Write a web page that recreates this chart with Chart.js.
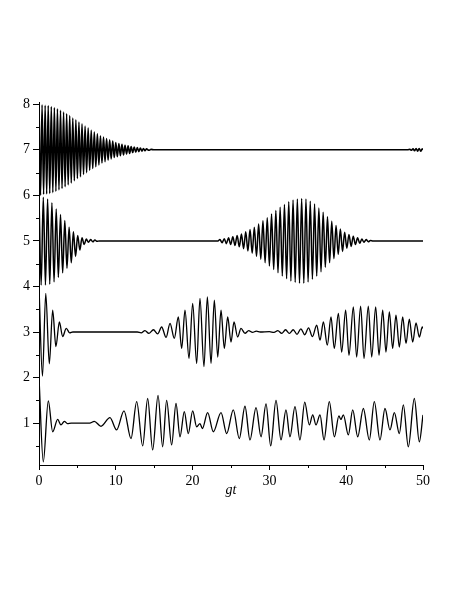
<!DOCTYPE html>
<html>
<head>
<meta charset="utf-8">
<script src="https://cdn.jsdelivr.net/npm/chart.js@4.4.0/dist/chart.umd.min.js"></script>
<style>
  html, body { margin: 0; padding: 0; background: #fff; }
  canvas { display: block; }
</style>
</head>
<body>
<canvas id="myChart" width="463" height="599"></canvas>
<script>
// tick positions
const xTicks = [0, 5, 10, 15, 20, 25, 30, 35, 40, 45, 50]
const yTicks = [0.5, 1, 1.5, 2, 2.5, 3, 3.5, 4, 4.5, 5, 5.5, 6, 6.5, 7, 7.5, 8]

// curve around 7 (peaks and troughs)
const tTop = [0,0.2,0.4,0.6,0.8,1,1.2,1.4,1.6,1.8,2,2.2,2.4,2.6,2.8,3,3.2,3.4,3.6,3.8,
  4,4.2,4.4,4.6,4.8,5,5.2,5.4,5.6,5.8,6,6.2,6.4,6.6,6.8,7,7.2,7.4,7.6,7.8,
  8,8.2,8.4,8.6,8.8,9,9.2,9.4,9.6,9.8,10,10.2,10.4,10.6,10.8,11,11.2,11.4,11.6,11.8,
  12,12.2,12.4,12.6,12.8,13,13.2,13.4,13.6,13.8,14,14.3,14.6,15,
  48,48.3,48.5,48.7,48.9,49.1,49.3,49.5,49.7,49.9,50]
const yTop = [8.00,6.00,7.99,6.02,7.98,6.03,7.97,6.04,7.95,6.06,
  7.93,6.09,7.90,6.12,7.87,6.15,7.83,6.19,7.79,6.23,
  7.75,6.27,7.70,6.32,7.66,6.37,7.61,6.41,7.57,6.46,
  7.52,6.50,7.48,6.55,7.43,6.59,7.39,6.63,7.35,6.67,
  7.31,6.71,7.28,6.74,7.25,6.77,7.22,6.80,7.19,6.83,
  7.16,6.85,7.14,6.87,7.12,6.89,7.10,6.91,7.09,6.92,
  7.07,6.94,7.06,6.95,7.05,6.96,7.04,6.97,7.03,6.98,
  7.02,6.99,7.01,7.00,
  7.00,7.01,6.99,7.02,6.98,7.03,6.97,7.03,6.97,7.02,7.00]

// curve around 5
const tSecond = [0,0.28,0.56,0.84,1.12,1.4,1.68,1.96,2.24,2.52,2.8,3.08,3.36,3.64,3.92,
  4.2,4.48,4.76,5.04,5.32,5.6,5.88,6.16,6.44,6.72,7,7.28,7.56,7.84,
  23.3,
  23.56,23.84,24.12,24.4,24.68,24.96,25.24,25.52,25.8,26.08,
  26.36,26.64,26.92,27.2,27.48,27.76,28.04,28.32,28.6,28.88,
  29.16,29.44,29.72,30,30.28,30.56,30.84,31.12,31.4,31.68,
  31.96,32.24,32.52,32.8,33.08,33.36,33.64,33.92,34.2,34.48,
  34.76,35.04,35.32,35.6,35.88,36.16,36.44,36.72,37,37.28,
  37.56,37.84,38.12,38.4,38.68,38.96,39.24,39.52,39.8,40.08,
  40.36,40.64,40.92,41.2,41.48,41.76,42.04,42.32,42.6,42.88,
  43.16,43.5,50]
const ySecond = [5.97,4.03,5.96,4.03,5.92,4.05,5.84,4.10,5.70,4.20,5.58,4.30,5.45,4.40,5.30,
  4.52,5.20,4.66,5.12,4.80,5.07,4.92,5.04,4.97,5.03,4.98,5.02,4.99,5.00,
  5.00,
  5.03,4.96,5.05,4.94,5.07,4.92,5.09,4.90,5.12,4.87,
  5.15,4.83,5.20,4.78,5.25,4.73,5.30,4.66,5.37,4.60,
  5.44,4.52,5.51,4.45,5.59,4.37,5.67,4.30,5.74,4.23,
  5.80,4.17,5.86,4.12,5.90,4.09,5.92,4.07,5.93,4.07,
  5.92,4.10,5.87,4.16,5.81,4.23,5.72,4.32,5.63,4.42,
  5.53,4.52,5.43,4.61,5.34,4.70,5.26,4.77,5.19,4.84,
  5.14,4.88,5.10,4.92,5.07,4.95,5.04,4.97,5.03,4.98,
  5.01,5.00,5.00]

// curve around 3
const tThird = [0,0.45,0.88,1.34,1.78,2.2,2.65,3.08,3.55,4.0,4.4,
  12.8,13.3,13.8,14.3,14.9,15.45,15.97,16.55,17.06,17.62,
  18.14,18.58,19.01,19.53,20.01,20.53,20.96,21.48,21.92,22.4,
  22.83,23.27,23.7,24.13,24.57,25,25.39,25.87,26.3,26.82,
  27.3,27.8,28.3,28.8,30,30.6,31.1,31.6,32.1,32.6,
  33.1,33.6,34.1,34.6,35.1,35.6,36.16,36.59,37.03,37.54,
  38.02,38.45,38.98,39.41,39.93,40.36,40.93,41.36,41.88,42.32,
  42.88,43.32,43.84,44.27,44.75,45.18,45.62,46.05,46.48,46.92,
  47.35,47.79,48.22,48.66,49.09,49.52,49.91,50]
const yThird = [4.00,2.03,3.85,2.30,3.48,2.68,3.22,2.90,3.08,2.98,3.00,
  3.00,2.98,3.03,2.97,3.05,2.96,3.11,2.88,3.19,2.86,
  3.33,2.64,3.48,2.42,3.63,2.31,3.74,2.24,3.77,2.31,
  3.70,2.45,3.48,2.64,3.33,2.78,3.22,2.89,3.08,2.97,
  3.03,2.99,3.02,3.00,3.01,2.99,3.03,2.97,3.05,2.97,
  3.05,2.95,3.07,2.94,3.09,2.90,3.15,2.82,3.22,2.71,
  3.33,2.64,3.41,2.56,3.48,2.49,3.55,2.45,3.57,2.42,
  3.57,2.45,3.55,2.49,3.48,2.56,3.44,2.64,3.37,2.67,
  3.33,2.75,3.28,2.78,3.20,2.89,3.11,3.08]

// curve around 1
const tBottom = [0,0.56,1.21,1.78,2.43,2.86,3.3,3.7,4.2,6.6,
  7.2,8.07,9.24,10.1,11.07,11.98,12.72,13.5,14.15,14.8,
  15.5,16.1,16.62,17.27,17.84,18.36,18.92,19.44,20.01,20.53,
  20.96,21.27,21.96,22.7,23.7,24.44,25.3,26.08,26.82,27.47,
  28.26,28.91,29.56,30.17,30.86,31.51,32.16,32.68,33.33,33.98,
  34.6,35.2,35.64,36.07,36.59,37.11,37.8,38.46,39.05,39.3,
  39.63,40.28,40.85,41.5,42.23,43.01,43.66,44.4,45.05,45.7,
  46.27,46.92,47.44,48.09,48.87,49.52,50]
const yBottom = [2.00,0.15,1.49,0.81,1.08,0.96,1.04,0.99,1.00,1.00,
  1.04,0.93,1.12,0.85,1.27,0.66,1.47,0.50,1.54,0.41,
  1.61,0.48,1.50,0.52,1.43,0.70,1.25,0.77,1.27,0.92,
  0.99,0.88,1.23,0.81,1.23,0.77,1.29,0.66,1.37,0.63,
  1.34,0.70,1.42,0.50,1.50,0.63,1.29,0.70,1.36,0.63,
  1.46,0.96,1.18,0.96,1.18,0.63,1.47,0.70,1.16,1.08,
  1.18,0.74,1.29,0.70,1.32,0.63,1.47,0.63,1.32,0.85,
  1.23,0.77,1.40,0.48,1.54,0.59,1.18]

const toPoints = (ts, ys) => ts.map((t, i) => ({ x: t, y: ys[i] }))

const serif = 'Liberation Serif, Times New Roman, serif'

const curve = (ts, ys, w) => ({
    data: toPoints(ts, ys),
    borderColor: '#000',
    borderWidth: w,
    pointRadius: 0,
    cubicInterpolationMode: 'monotone',
    fill: false
})

// short ticks for the half steps
const minorTicks = {
    id: 'minorTicks',
    afterDraw(chart) {
        const { ctx, scales: { x, y } } = chart
        ctx.save()
        ctx.strokeStyle = '#000'
        ctx.lineWidth = 1
        ctx.beginPath()
        x.ticks.forEach(t => {
            if (t.value % 10 !== 0) {
                const px = Math.round(x.getPixelForValue(t.value)) + 0.5
                ctx.moveTo(px, x.top)
                ctx.lineTo(px, x.top + 3)
            }
        })
        y.ticks.forEach(t => {
            if (t.value % 1 !== 0) {
                const py = Math.round(y.getPixelForValue(t.value)) + 0.5
                ctx.moveTo(y.right, py)
                ctx.lineTo(y.right - 3, py)
            }
        })
        ctx.stroke()
        ctx.restore()
    }
}

var ctx = document.getElementById('myChart')
var myChart = new Chart(ctx, {
    type: 'line',
    data: {
        datasets: [
            curve(tTop, yTop, 1.6),
            curve(tSecond, ySecond, 1.5),
            curve(tThird, yThird, 1.3),
            curve(tBottom, yBottom, 1.3)
        ]
    },
    options: {
        responsive: false,
        animation: false,
        devicePixelRatio: 1,
        layout: { padding: { left: 0, right: 40, top: 102, bottom: 94 } },
        plugins: {
            legend: { display: false },
            tooltip: { enabled: false }
        },
        scales: {
            x: {
                type: 'linear',
                min: 0,
                max: 50,
                afterBuildTicks: axis => { axis.ticks = xTicks.map(v => ({ value: v })) },
                afterFit: axis => { axis.height = 40 },
                border: { display: true, color: '#000', width: 1 },
                grid: {
                    drawOnChartArea: false,
                    tickLength: 5,
                    tickColor: c => (c.tick && c.tick.value % 10 === 0) ? '#000' : 'rgba(0,0,0,0)'
                },
                ticks: {
                    color: '#000',
                    padding: 3,
                    maxRotation: 0,
                    autoSkip: false,
                    font: { family: serif, size: 14 },
                    callback: v => (v % 10 === 0 ? v : '')
                },
                title: {
                    display: true,
                    text: 'gt',
                    color: '#000',
                    font: { family: serif, size: 14, style: 'italic' },
                    padding: { top: 0, bottom: 6 }
                }
            },
            y: {
                type: 'linear',
                min: 0.08,
                max: 8.05,
                afterBuildTicks: axis => { axis.ticks = yTicks.map(v => ({ value: v })) },
                afterFit: axis => { axis.width = 39 },
                border: { display: true, color: '#000', width: 1 },
                grid: {
                    drawOnChartArea: false,
                    tickLength: 6,
                    tickColor: c => (c.tick && c.tick.value % 1 === 0) ? '#000' : 'rgba(0,0,0,0)'
                },
                ticks: {
                    color: '#000',
                    padding: 3,
                    autoSkip: false,
                    font: { family: serif, size: 14 },
                    callback: v => (v % 1 === 0 ? v : '')
                }
            }
        }
    },
    plugins: [minorTicks]
})
</script>
</body>
</html>
